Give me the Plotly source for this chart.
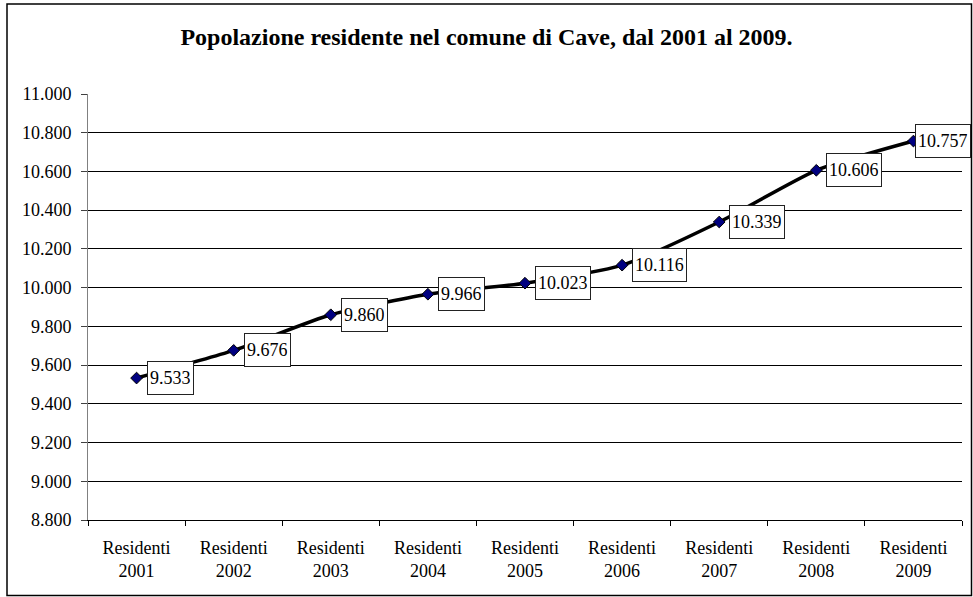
import plotly.graph_objects as go

# Data
years = ["2001", "2002", "2003", "2004", "2005", "2006", "2007", "2008", "2009"]
categories = ["Residenti<br>" + y for y in years]
residents = [9533, 9676, 9860, 9966, 10023, 10116, 10339, 10606, 10757]
label_texts = ["9.533", "9.676", "9.860", "9.966", "10.023", "10.116", "10.339", "10.606", "10.757"]
y_ticks = [8800, 9000, 9200, 9400, 9600, 9800, 10000, 10200, 10400, 10600, 10800, 11000]
y_tick_text = ["8.800", "9.000", "9.200", "9.400", "9.600", "9.800", "10.000", "10.200",
               "10.400", "10.600", "10.800", "11.000"]
title_text = "Popolazione residente nel comune di Cave, dal 2001 al 2009."

SERIF = "'Liberation Serif', 'Times New Roman', Times, serif"
W, H = 973, 597
ML, MR, MT, MB = 88, W - 962, 94, H - 520

fig = go.Figure()
fig.add_trace(go.Scatter(
    x=categories, y=residents, mode="lines+markers",
    line=dict(color="black", width=3.5, shape="spline", smoothing=0.6),
    marker=dict(symbol="diamond", size=9, color="#000080", line=dict(color="black", width=1)),
    hoverinfo="x+y", showlegend=False,
))

annotations = []
n = len(categories)
for i, (c, v, t) in enumerate(zip(categories, residents, label_texts)):
    annotations.append(dict(
        x=c, y=v, xref="x", yref="y", text=t, showarrow=False,
        xanchor="left", yanchor="middle", xshift=(2 if i == n - 1 else 10),
        font=dict(family=SERIF, size=18, color="black"),
        height=28, valign="middle",
        bgcolor="white", bordercolor="#222", borderwidth=1, borderpad=2,
    ))

pw = W - ML - MR
ph = H - MT - MB
shapes = [
    # hide top gridline at 11.000
    dict(type="line", xref="paper", yref="y", x0=0, x1=1, y0=y_ticks[-1], y1=y_ticks[-1],
         line=dict(color="white", width=2), layer="below"),
    # outer frame
    dict(type="rect", xref="paper", yref="paper",
         x0=(7 - ML) / pw, x1=(971.5 - ML) / pw,
         y0=(MT + ph - 595.5) / ph, y1=(MT + ph - 4) / ph,
         line=dict(color="black", width=1.5), fillcolor="rgba(0,0,0,0)", layer="above"),
]

fig.update_layout(
    width=W, height=H,
    margin=dict(l=ML, r=MR, t=MT, b=MB, pad=0),
    paper_bgcolor="white", plot_bgcolor="white",
    font=dict(family=SERIF, color="black"),
    title=dict(text="<b>" + title_text + "</b>", x=0.5, xref="container", xanchor="center",
               y=1 - 37 / H, yref="container", yanchor="middle",
               font=dict(family=SERIF, size=24, color="black")),
    xaxis=dict(
        type="category", range=[-0.5, 8.5], showgrid=False, zeroline=False,
        showline=True, linecolor="black", linewidth=1,
        ticks="outside", tickson="boundaries", ticklen=5, tickcolor="black",
        tickfont=dict(family=SERIF, size=18, color="black"),
        ticklabelstandoff=11,
    ),
    yaxis=dict(
        range=[8800, 11000], tickvals=y_ticks, ticktext=y_tick_text,
        showgrid=True, gridcolor="black", gridwidth=1, zeroline=False,
        showline=True, linecolor="#808080", linewidth=1,
        ticks="outside", ticklen=6, tickcolor="#404040",
        tickfont=dict(family=SERIF, size=18, color="black"),
        ticklabelstandoff=6,
    ),
    annotations=annotations, shapes=shapes,
)

fig.write_html("out.html", config={"displayModeBar": False},
               post_script="document.body.style.margin='0';document.body.style.overflow='hidden';")
